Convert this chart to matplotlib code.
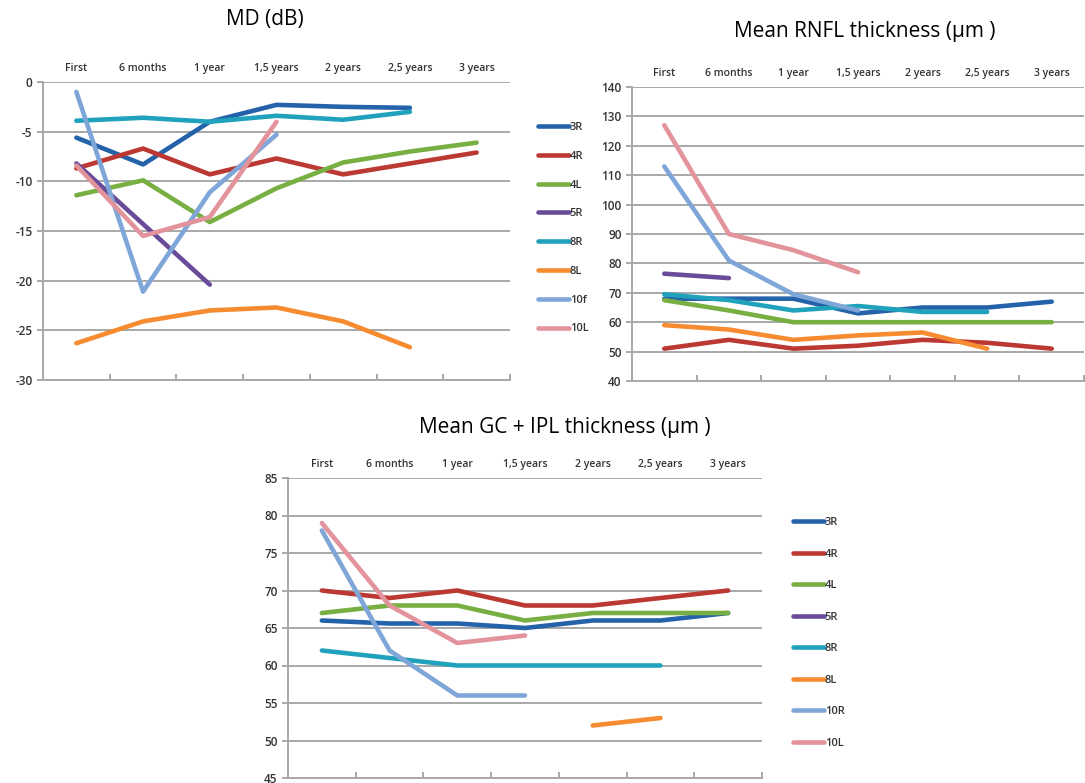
import numpy as np
import matplotlib
matplotlib.use("Agg")
import matplotlib.pyplot as plt

plt.rcParams["font.family"] = ["Open Sans", "DejaVu Sans"]
plt.rcParams["axes.unicode_minus"] = False

nan = np.nan

# categories along the x axis (shown at the top of each chart)
visits = ["First", "6 months", "1 year", "1,5 years", "2 years", "2,5 years", "3 years"]
eyes = ["3R", "4R", "4L", "5R", "8R", "8L", "10R", "10L"]
legend_top = ["3R", "4R", "4L", "5R", "8R", "8L", "10f", "10L"]
colors = ["#2462AA", "#BC3833", "#78AF42", "#6A4B99", "#20A2BC", "#F68B30", "#7FA6D8", "#E2939B"]

# MD (dB)
md_3R = [-5.6, -8.3, -4.0, -2.3, -2.5, -2.6, nan]
md_4R = [-8.7, -6.7, -9.3, -7.7, -9.3, -8.2, -7.1]
md_4L = [-11.4, -9.9, -14.1, -10.7, -8.1, -7.0, -6.1]
md_5R = [-8.2, -14.3, -20.4, nan, nan, nan, nan]
md_8R = [-3.9, -3.6, -4.0, -3.4, -3.8, -3.0, nan]
md_8L = [-26.3, -24.1, -23.0, -22.7, -24.1, -26.7, nan]
md_10R = [-1.0, -21.1, -11.1, -5.3, nan, nan, nan]
md_10L = [-8.4, -15.5, -13.6, -4.0, nan, nan, nan]

# Mean RNFL thickness (um)
rnfl_3R = [68, 68, 68, 63, 65, 65, 67]
rnfl_4R = [51, 54, 51, 52, 54, 53, 51]
rnfl_4L = [67.5, 64, 60, 60, 60, 60, 60]
rnfl_5R = [76.5, 75, nan, nan, nan, nan, nan]
rnfl_8R = [69.5, 67.5, 64, 65.5, 63.5, 63.5, nan]
rnfl_8L = [59, 57.5, 54, 55.5, 56.5, 51, nan]
rnfl_10R = [113, 81, 69.5, 64, nan, nan, nan]
rnfl_10L = [127, 90, 84.5, 77, nan, nan, nan]

# Mean GC + IPL thickness (um)
gc_3R = [66, 65.6, 65.6, 65, 66, 66, 67]
gc_4R = [70, 69, 70, 68, 68, 69, 70]
gc_4L = [67, 68, 68, 66, 67, 67, 67]
gc_5R = [nan] * 7
gc_8R = [62, 61, 60, 60, 60, 60, nan]
gc_8L = [nan, nan, nan, nan, 52, 53, nan]
gc_10R = [78, 62, 56, 56, nan, nan, nan]
gc_10L = [79, 68, 63, 64, nan, nan, nan]

md = [md_3R, md_4R, md_4L, md_5R, md_8R, md_8L, md_10R, md_10L]
rnfl = [rnfl_3R, rnfl_4R, rnfl_4L, rnfl_5R, rnfl_8R, rnfl_8L, rnfl_10R, rnfl_10L]
gc = [gc_3R, gc_4R, gc_4L, gc_5R, gc_8R, gc_8L, gc_10R, gc_10L]

W, H = 1085, 783
fig = plt.figure(figsize=(W / 100, H / 100), dpi=100)


def box(x0, y0, x1, y1):
    # pixel box (top-left origin) -> figure fraction rect
    return [x0 / W, 1 - y1 / H, (x1 - x0) / W, (y1 - y0) / H]


def style(ax, ymin, ymax, step):
    x = np.arange(len(visits))
    ax.set_xlim(-0.5, len(visits) - 0.5)
    ax.set_ylim(ymin, ymax)
    ax.set_yticks(np.arange(ymin, ymax + 0.1, step))
    ax.yaxis.grid(True, color="#A8A8A8", lw=1.4)
    ax.set_axisbelow(True)
    for s in ["top", "right"]:
        ax.spines[s].set_visible(False)
    for s in ["left", "bottom"]:
        ax.spines[s].set_color("#A8A8A8")
        ax.spines[s].set_linewidth(1.4)
    # boundary ticks on the bottom, category labels on top
    ax.set_xticks(np.arange(-0.5, len(visits)), labels=[])
    ax.tick_params(axis="x", which="major", direction="in", length=4,
                   color="#A8A8A8", width=1.4, labelbottom=False)
    ax.set_xticks(x, minor=True)
    ax.set_xticklabels(visits, minor=True, fontweight="semibold")
    ax.tick_params(axis="x", which="minor", length=0, bottom=False, top=True,
                   labelbottom=False, labeltop=True, labelsize=7.5,
                   labelcolor="#333333", pad=6)
    ax.tick_params(axis="y", length=4, color="#A8A8A8", width=1.4,
                   labelsize=8.5, labelcolor="#333333")
    for t in ax.get_yticklabels():
        t.set_fontweight("semibold")


def draw(ax, series):
    x = np.arange(len(visits))
    lines = []
    for vals, c, name in zip(series, colors, eyes):
        ln, = ax.plot(x, vals, color=c, lw=3.3, solid_capstyle="round", label=name)
        lines.append(ln)
    return lines


ax1 = fig.add_axes(box(43, 82, 510, 380))
style(ax1, -30, 0, 5)
h1 = draw(ax1, md)
fig.text(265 / W, 1 - 20 / H, "MD (dB)", ha="center", va="center", fontsize=15)

ax2 = fig.add_axes(box(632, 87, 1084, 381))
style(ax2, 40, 140, 10)
draw(ax2, rnfl)
fig.text(865 / W, 1 - 32 / H, "Mean RNFL thickness (\u00b5m )", ha="center",
         va="center", fontsize=15)

ax3 = fig.add_axes(box(288, 478, 762, 778))
style(ax3, 45, 85, 5)
h3 = draw(ax3, gc)
fig.text(565 / W, 1 - 428 / H, "Mean GC + IPL thickness (\u00b5m )", ha="center",
         va="center", fontsize=15)

leg_kw = dict(loc="upper left", frameon=False, fontsize=8,
              handlelength=2.8, handletextpad=0.05, labelcolor="#333333",
              prop={"weight": "semibold", "size": 8})
leg_kw.pop("fontsize")
fig.legend(h1, legend_top, bbox_to_anchor=(528 / W, 1 - 112 / H),
           labelspacing=1.6, **leg_kw)
fig.legend(h3, eyes, bbox_to_anchor=(783 / W, 1 - 507 / H),
           labelspacing=1.85, **leg_kw)

fig.savefig("out.png", dpi=100)
